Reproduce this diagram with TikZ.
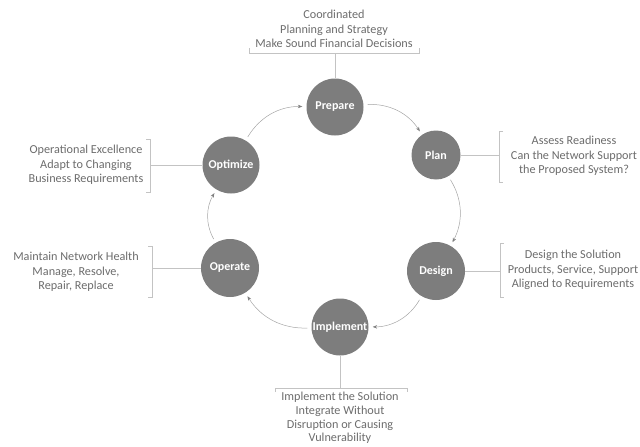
\documentclass[tikz,border=0pt]{standalone}
\usepackage{fontspec}
\setmainfont{Carlito}
\usetikzlibrary{arrows.meta}
\definecolor{stagegray}{RGB}{125,125,125}
\definecolor{notegray}{RGB}{108,108,108}
\definecolor{linegray}{RGB}{195,195,195}
\definecolor{flowgray}{RGB}{165,165,165}
\tikzset{
  stage/.style={circle, fill=stagegray, text=white, inner sep=0pt, minimum size=57pt,
    font=\bfseries\fontsize{12}{14}\selectfont},
  note/.style={text=notegray, align=center, inner sep=0pt,
    font=\fontsize{12.2}{14.4}\selectfont},
  link/.style={draw=linegray, line width=0.7pt},
  flow/.style={draw=flowgray, line width=0.5pt, bend left=30,
    -{Stealth[length=4.5pt,width=3.5pt,color=gray]}, shorten >=4pt, shorten <=4pt}
}
\begin{document}
\begin{tikzpicture}[x=1pt,y=-1pt]
\useasboundingbox (0,0) rectangle (640,447);
% stages
\node[stage] (prep) at (335,107) {Prepare};
\node[stage, minimum size=49pt] (plan) at (436,155) {Plan};
\node[stage, minimum size=58pt] (des) at (436,271) {Design};
\node[stage] (imp) at (340,327) {Implement};
\node[stage, minimum size=58pt] (opr) at (230,268) {Operate};
\node[stage] (opt) at (231,165) {Optimize};
% cycle
\draw[flow] (prep) to (plan);
\draw[flow] (plan) to (des);
\draw[flow] (des) to (imp);
\draw[flow] (imp) to (opr);
\draw[flow] (opr) to (opt);
\draw[flow] (opt) to (prep);
% callout brackets
\coordinate (prepb) at (335,53);
\coordinate (planb) at (499,155);
\coordinate (desb) at (500,271);
\coordinate (impb) at (340,388);
\coordinate (optb) at (150,165);
\coordinate (oprb) at (152,268);
\draw[link] (prep) -- (prepb);
\draw[link] (plan) -- (planb);
\draw[link] (des) -- (desb);
\draw[link] (imp) -- (impb);
\draw[link] (opt) -- (optb);
\draw[link] (opr) -- (oprb);
\draw[link] (249,48) -- (249,53) -- (419,53) -- (419,48);
\draw[link] (503,131) -- (499,131) -- (499,182) -- (503,182);
\draw[link] (504,243) -- (500,243) -- (500,297) -- (504,297);
\draw[link] (275,392) -- (275,388) -- (407,388) -- (407,392);
\draw[link] (146,139) -- (150,139) -- (150,192) -- (146,192);
\draw[link] (148,246) -- (152,246) -- (152,297) -- (148,297);
% notes
\node[note] (prepn) at (334,29) {Coordinated\\Planning and Strategy\\Make Sound Financial Decisions};
\node[note] (plann) at (574,156) {Assess Readiness\\Can the Network Support\\the Proposed System?};
\node[note] (desn) at (573,270) {Design the Solution\\Products, Service, Support\\Aligned to Requirements};
\node[note, font=\fontsize{12.2}{13.6}\selectfont] (impn) at (340,418) {Implement the Solution\\Integrate Without\\Disruption or Causing\\Vulnerability};
\node[note] (optn) at (86,165) {Operational Excellence\\Adapt to Changing\\Business Requirements};
\node[note] (oprn) at (76,272) {Maintain Network Health\\Manage, Resolve,\\Repair, Replace};
\end{tikzpicture}
\end{document}
